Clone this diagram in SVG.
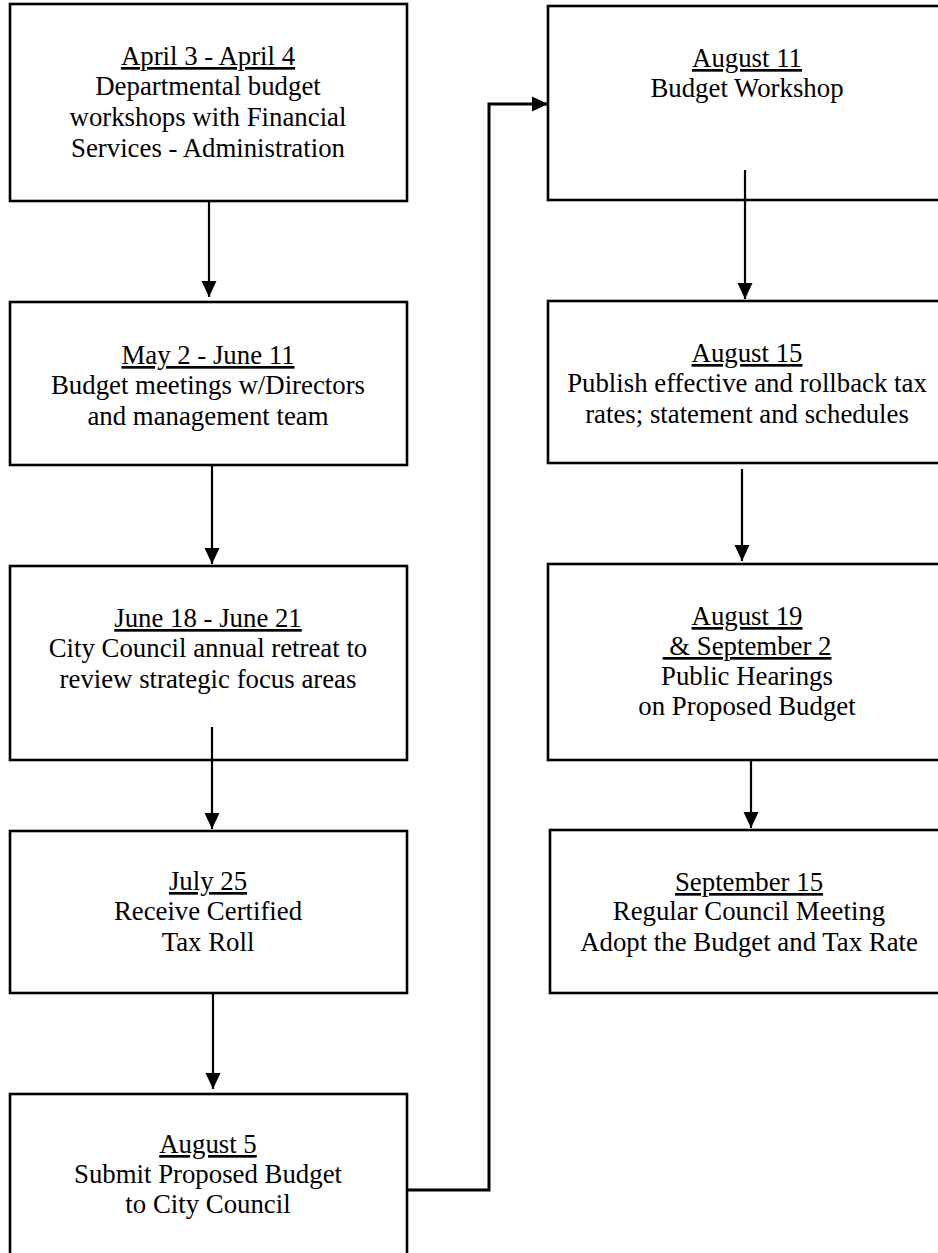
<svg xmlns="http://www.w3.org/2000/svg" width="938" height="1253" viewBox="0 0 938 1253">
<style>
.box{fill:#fff;stroke:#000;stroke-width:2.6}
.t{font-family:'Liberation Serif','Times New Roman','DejaVu Serif',serif;font-size:26.8px;fill:#000;text-anchor:middle}
.u{text-decoration:underline}
.c{fill:none;stroke:#000;stroke-width:2.2}
.ct{fill:none;stroke:#000;stroke-width:3}
</style>
<defs>
<marker id="ah" markerUnits="userSpaceOnUse" markerWidth="17" markerHeight="17" viewBox="0 0 17 17" refX="16" refY="8.5" orient="auto">
<path d="M0,1 L16,8.5 L0,16 z" fill="#000"/>
</marker>
</defs>
<rect width="938" height="1253" fill="#fff"/>
<g id="n1"><rect class="box" x="10" y="4" width="397" height="197"/>
<text class="t" x="208" y="65"><tspan class="u">April 3 - April 4</tspan><tspan x="208" y="95">Departmental budget</tspan><tspan x="208" y="126">workshops with Financial</tspan><tspan x="208" y="157">Services - Administration</tspan></text></g>
<g id="n2"><rect class="box" x="10" y="302" width="397" height="163"/>
<text class="t" x="208" y="364"><tspan class="u">May 2 - June 11</tspan><tspan x="208" y="394">Budget meetings w/Directors</tspan><tspan x="208" y="425">and management team</tspan></text></g>
<g id="n3"><rect class="box" x="10" y="566" width="397" height="194"/>
<text class="t" x="208" y="627"><tspan class="u">June 18 - June 21</tspan><tspan x="208" y="657">City Council annual retreat to</tspan><tspan x="208" y="688">review strategic focus areas</tspan></text></g>
<g id="n4"><rect class="box" x="10" y="831" width="397" height="162"/>
<text class="t" x="208" y="890"><tspan class="u">July 25</tspan><tspan x="208" y="920">Receive Certified</tspan><tspan x="208" y="951">Tax Roll</tspan></text></g>
<g id="n5"><rect class="box" x="10" y="1094" width="397" height="166"/>
<text class="t" x="208" y="1153"><tspan class="u">August 5</tspan><tspan x="208" y="1183">Submit Proposed Budget</tspan><tspan x="208" y="1213">to City Council</tspan></text></g>
<g id="n6"><rect class="box" x="548" y="6" width="400" height="194"/>
<text class="t" x="747" y="67"><tspan class="u">August 11</tspan><tspan x="747" y="97">Budget Workshop</tspan></text></g>
<g id="n7"><rect class="box" x="548" y="301" width="400" height="162"/>
<text class="t" x="747" y="362"><tspan class="u">August 15</tspan><tspan x="747" y="392">Publish effective and rollback tax</tspan><tspan x="747" y="423">rates; statement and schedules</tspan></text></g>
<g id="n8"><rect class="box" x="548" y="564" width="400" height="196"/>
<text class="t" x="747" y="625" xml:space="preserve"><tspan class="u">August 19</tspan><tspan x="747" y="655" class="u"> &amp; September 2</tspan><tspan x="747" y="685">Public Hearings</tspan><tspan x="747" y="715">on Proposed Budget</tspan></text></g>
<g id="n9"><rect class="box" x="550" y="830" width="400" height="163"/>
<text class="t" x="749" y="891"><tspan class="u">September 15</tspan><tspan x="749" y="920">Regular Council Meeting</tspan><tspan x="749" y="951">Adopt the Budget and Tax Rate</tspan></text></g>
<g id="connectors">
<line class="c" x1="209" y1="201" x2="209" y2="297" marker-end="url(#ah)"/>
<line class="c" x1="212" y1="465" x2="212" y2="564" marker-end="url(#ah)"/>
<line class="c" x1="212" y1="727" x2="212" y2="829" marker-end="url(#ah)"/>
<line class="c" x1="213" y1="993" x2="213" y2="1089" marker-end="url(#ah)"/>
<polyline class="ct" points="408,1190 489,1190 489,104 548,104" marker-end="url(#ah)"/>
<line class="c" x1="745" y1="170" x2="745" y2="299" marker-end="url(#ah)"/>
<line class="c" x1="742" y1="469" x2="742" y2="561" marker-end="url(#ah)"/>
<line class="c" x1="751" y1="760" x2="751" y2="828" marker-end="url(#ah)"/>
</g>
</svg>
